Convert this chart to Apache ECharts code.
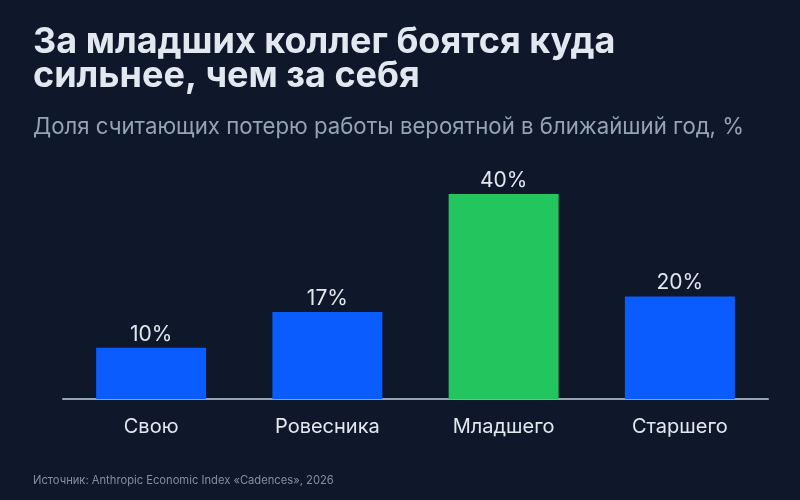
<!DOCTYPE html>
<html>
<head>
<meta charset="utf-8">
<script src="https://cdn.jsdelivr.net/npm/echarts@6/dist/echarts.min.js"></script>
<style>
html,body{margin:0;padding:0;background:#0f172a;}
#chart{width:800px;height:500px;}
</style>
</head>
<body>
<div id="chart"></div>
<script>
var categories = ['Свою', 'Ровесника', 'Младшего', 'Старшего'];
var values = [10, 17, 40, 20];
var highlightIndex = 2;
var titleText = 'За младших коллег боятся куда\nсильнее, чем за себя';
var subtitleText = 'Доля считающих потерю работы вероятной в ближайший год, %';
var sourceText = 'Источник: Anthropic Economic Index «Cadences», 2026';

var chart = echarts.init(document.getElementById('chart'), null, {renderer: 'canvas'});
var FONT = 'Inter, "Noto Sans", sans-serif';
chart.setOption({
  backgroundColor: '#0f172a',
  animation: false,
  title: [
    {text: titleText, left: 28, top: 20, padding: 5,
     textStyle: {color: '#e2e8f0', fontSize: 36, fontWeight: 'bold', fontFamily: FONT, lineHeight: 34}},
    {text: subtitleText, left: 28, top: 111, padding: 5,
     textStyle: {color: '#94a3b8', fontSize: 22.2, fontWeight: 'normal', fontFamily: FONT}},
    {text: sourceText, left: 28, top: 470, padding: 5,
     textStyle: {color: '#848ea1', fontSize: 11.2, fontWeight: 'normal', fontFamily: FONT}}
  ],
  grid: {left: 63, right: 32, top: 194, bottom: 101, containLabel: false},
  xAxis: {
    type: 'category', data: categories,
    axisLine: {show: true, lineStyle: {color: '#94a3b8', width: 2}},
    axisTick: {show: false},
    axisLabel: {color: '#e2e8f0', fontSize: 20, fontFamily: FONT, margin: 18}
  },
  yAxis: {type: 'value', min: 0, max: 40, show: false, splitLine: {show: false}},
  series: [{
    type: 'bar', barWidth: '62.4%',
    data: values.map(function (v, i) {
      return {value: v, itemStyle: {color: i === highlightIndex ? '#22c55e' : '#0a5cff'}};
    }),
    label: {show: true, position: 'top', distance: 3, formatter: '{c}%',
            color: '#e2e8f0', fontSize: 21, fontFamily: FONT}
  }]
});
</script>
</body>
</html>
